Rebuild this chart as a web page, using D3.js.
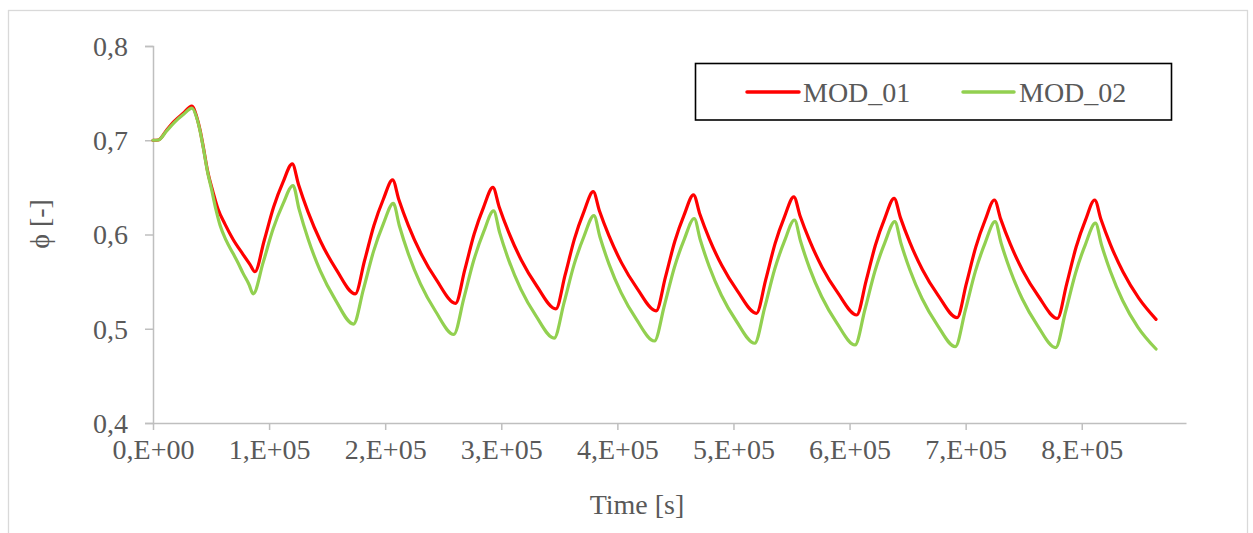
<!DOCTYPE html>
<html>
<head>
<meta charset="utf-8">
<script src="https://cdn.jsdelivr.net/npm/d3@7"></script>
<style>
  html, body { margin: 0; padding: 0; background: #fff; }
  svg { display: block; }
  text { font-family: "Liberation Serif", "Times New Roman", serif; fill: #595959; }
</style>
</head>
<body>
<svg id="chart" width="1253" height="533"></svg>
<script>
// ---- data ----
const seriesNames = ["MOD_01", "MOD_02"];
const seriesColors = ["#FF0000", "#92D050"];

const timeMOD01 = [0, 4600, 11800, 18900, 26100, 33400,
  37600, 40500, 43300, 46900, 51700, 56000, 62000, 68900, 77500, 83600, 87800,
  95800, 103900, 112000, 120000,
  125400, 133600, 144400, 157900, 174200,
  182200, 190300, 198400, 206400,
  211800, 220000, 230800, 244300, 260600,
  268600, 276700, 284800, 292800,
  298200, 306400, 317200, 330700, 347000,
  355000, 363100, 371200, 379200,
  384600, 392800, 403600, 417100, 433400,
  441400, 449500, 457600, 465600,
  471000, 479200, 490000, 503500, 519800,
  527800, 535900, 544000, 552000,
  557400, 565600, 576400, 589900, 606200,
  614200, 622300, 630400, 638400,
  643800, 652000, 662800, 676300, 692600,
  700600, 708700, 716800, 724800,
  730200, 738400, 749200, 762700, 779000,
  787000, 795100, 803200, 811200,
  816600, 824800, 835600, 849100, 864000];
const phiMOD01 = [0.700, 0.7003, 0.7109, 0.7207, 0.7286, 0.7363,
  0.725, 0.711, 0.693, 0.668, 0.645, 0.627, 0.611, 0.595, 0.579, 0.568, 0.5605,
  0.5937, 0.6292, 0.6555, 0.675,
  0.6527, 0.6238, 0.5926, 0.5628, 0.537,
  0.5721, 0.6096, 0.6374, 0.658,
  0.6368, 0.6094, 0.5798, 0.5515, 0.527,
  0.5627, 0.6008, 0.6291, 0.650,
  0.6291, 0.6022, 0.5730, 0.5451, 0.521,
  0.5571, 0.5956, 0.6243, 0.6454,
  0.6249, 0.5985, 0.5699, 0.5426, 0.519,
  0.5547, 0.5928, 0.6211, 0.642,
  0.6217, 0.5954, 0.5670, 0.5399, 0.5164,
  0.5522, 0.5906, 0.6190, 0.640,
  0.6197, 0.5935, 0.5651, 0.5380, 0.5146,
  0.5505, 0.5889, 0.6174, 0.6384,
  0.6179, 0.5914, 0.5627, 0.5354, 0.5117,
  0.5479, 0.5866, 0.6154, 0.6366,
  0.6163, 0.5900, 0.5616, 0.5345, 0.511,
  0.5474, 0.5864, 0.6152, 0.6366,
  0.6159, 0.5891, 0.5602, 0.5325, 0.510];

const timeMOD02 = [0, 4600, 11800, 18900, 26100, 33600,
  37600, 40500, 43300, 46900, 50600, 54300, 57700, 62900, 68900, 73200, 77500, 82700, 86300,
  94900, 103500, 112000, 120600,
  125800, 133600, 144000, 157100, 172700,
  181300, 189900, 198400, 207000,
  212200, 220000, 230400, 243500, 259100,
  267700, 276300, 284800, 293400,
  298600, 306400, 316800, 329900, 345500,
  354100, 362700, 371200, 379800,
  385000, 392800, 403200, 416300, 431900,
  440500, 449100, 457600, 466200,
  471400, 479200, 489600, 502700, 518300,
  526900, 535500, 544000, 552600,
  557800, 565600, 576000, 589100, 604700,
  613300, 621900, 630400, 639000,
  644200, 652000, 662400, 675500, 691100,
  699700, 708300, 716800, 725400,
  730600, 738400, 748800, 761900, 777500,
  786100, 794700, 803200, 811800,
  817000, 824800, 835200, 848300, 864000];
const phiMOD02 = [0.700, 0.7003, 0.7100, 0.7195, 0.7272, 0.734,
  0.724, 0.710, 0.692, 0.667, 0.647, 0.626, 0.610, 0.594, 0.580, 0.570, 0.559, 0.547, 0.537,
  0.5704, 0.6060, 0.6325, 0.652,
  0.6269, 0.5952, 0.5617, 0.5307, 0.505,
  0.5421, 0.5818, 0.6112, 0.633,
  0.6093, 0.5793, 0.5476, 0.5183, 0.494,
  0.5320, 0.5726, 0.6027, 0.625,
  0.6020, 0.5728, 0.5420, 0.5136, 0.490,
  0.5277, 0.5680, 0.5979, 0.620,
  0.5973, 0.5686, 0.5383, 0.5102, 0.487,
  0.5247, 0.5650, 0.5949, 0.617,
  0.5944, 0.5658, 0.5356, 0.5077, 0.4846,
  0.5225, 0.5631, 0.5932, 0.6154,
  0.5928, 0.5641, 0.5339, 0.5060, 0.4828,
  0.5207, 0.5613, 0.5914, 0.6136,
  0.5910, 0.5623, 0.5321, 0.5042, 0.481,
  0.5195, 0.5606, 0.5911, 0.6136,
  0.5908, 0.5620, 0.5315, 0.5034, 0.480,
  0.5183, 0.5592, 0.5896, 0.612,
  0.5892, 0.5604, 0.5300, 0.5018, 0.4785];

const xTickValues = [0, 100000, 200000, 300000, 400000, 500000, 600000, 700000, 800000];
const xTickLabels = ["0,E+00", "1,E+05", "2,E+05", "3,E+05", "4,E+05", "5,E+05", "6,E+05", "7,E+05", "8,E+05"];
const yTickValues = [0.4, 0.5, 0.6, 0.7, 0.8];
const yTickLabels = ["0,4", "0,5", "0,6", "0,7", "0,8"];
const xTitle = "Time [s]";
const yTitle = "\u03D5 [-]";

// ---- layout ----
const svg = d3.select("#chart");
const plot = { left: 153, right: 1186, top: 46, bottom: 423 };
const axisColor = "#bfbfbf";
const fontSize = 28;

// outer chart border
svg.append("rect")
  .attr("x", 8.5).attr("y", 10.5)
  .attr("width", 1239).attr("height", 560)
  .attr("fill", "none").attr("stroke", "#d9d9d9").attr("stroke-width", 1.3);

const x = d3.scaleLinear().domain([0, 889800]).range([plot.left, plot.right]);
const y = d3.scaleLinear().domain([0.4, 0.8]).range([plot.bottom, plot.top]);

// y axis
const yAxis = svg.append("g")
  .attr("transform", `translate(${plot.left},0)`)
  .call(d3.axisLeft(y).tickValues(yTickValues)
    .tickFormat((d, i) => yTickLabels[i]).tickSize(8).tickPadding(17));
yAxis.select(".domain").attr("stroke", axisColor).attr("stroke-width", 1.5);
yAxis.selectAll(".tick line").attr("stroke", axisColor).attr("stroke-width", 1.5);
yAxis.selectAll(".tick text")
  .attr("font-size", fontSize).attr("font-family", "Liberation Serif")
  .attr("fill", "#595959").attr("dy", "0.33em");

// x axis
const xAxis = svg.append("g")
  .attr("transform", `translate(0,${plot.bottom})`)
  .call(d3.axisBottom(x).tickValues(xTickValues)
    .tickFormat((d, i) => xTickLabels[i]).tickSize(7).tickPadding(9).tickSizeOuter(0));
xAxis.select(".domain").attr("stroke", axisColor).attr("stroke-width", 1.5);
xAxis.selectAll(".tick line").attr("stroke", axisColor).attr("stroke-width", 1.5);
xAxis.selectAll(".tick text")
  .attr("font-size", fontSize).attr("font-family", "Liberation Serif")
  .attr("fill", "#595959");

// axis titles
svg.append("text")
  .attr("x", 637).attr("y", 514)
  .attr("text-anchor", "middle")
  .attr("font-size", fontSize)
  .text(xTitle);
svg.append("text")
  .attr("transform", "translate(49,224) rotate(-90)")
  .attr("text-anchor", "middle")
  .attr("font-size", fontSize)
  .text(yTitle);

// series
const line = d3.line()
  .x(d => x(d[0])).y(d => y(d[1]))
  .curve(d3.curveMonotoneX);

const series = [
  { name: seriesNames[0], color: seriesColors[0], pts: timeMOD01.map((t, i) => [t, phiMOD01[i]]) },
  { name: seriesNames[1], color: seriesColors[1], pts: timeMOD02.map((t, i) => [t, phiMOD02[i]]) }
];

svg.append("g").selectAll("path")
  .data(series).join("path")
  .attr("d", d => line(d.pts))
  .attr("fill", "none")
  .attr("stroke", d => d.color)
  .attr("stroke-width", 3.2)
  .attr("stroke-linejoin", "round")
  .attr("stroke-linecap", "round");

// legend
const legend = svg.append("g");
legend.append("rect")
  .attr("x", 695.5).attr("y", 63.5)
  .attr("width", 476).attr("height", 56.5)
  .attr("fill", "#fff").attr("stroke", "#000").attr("stroke-width", 1.6);
const legendItems = [
  { x1: 747, x2: 799, tx: 803 },
  { x1: 963, x2: 1014, tx: 1019 }
];
series.forEach((s, i) => {
  const it = legendItems[i];
  legend.append("line")
    .attr("x1", it.x1).attr("x2", it.x2)
    .attr("y1", 92).attr("y2", 92)
    .attr("stroke", s.color).attr("stroke-width", 3.5)
    .attr("stroke-linecap", "round");
  legend.append("text")
    .attr("x", it.tx).attr("y", 92)
    .attr("dy", "0.35em")
    .attr("font-size", fontSize)
    .text(s.name);
});
</script>
</body>
</html>
